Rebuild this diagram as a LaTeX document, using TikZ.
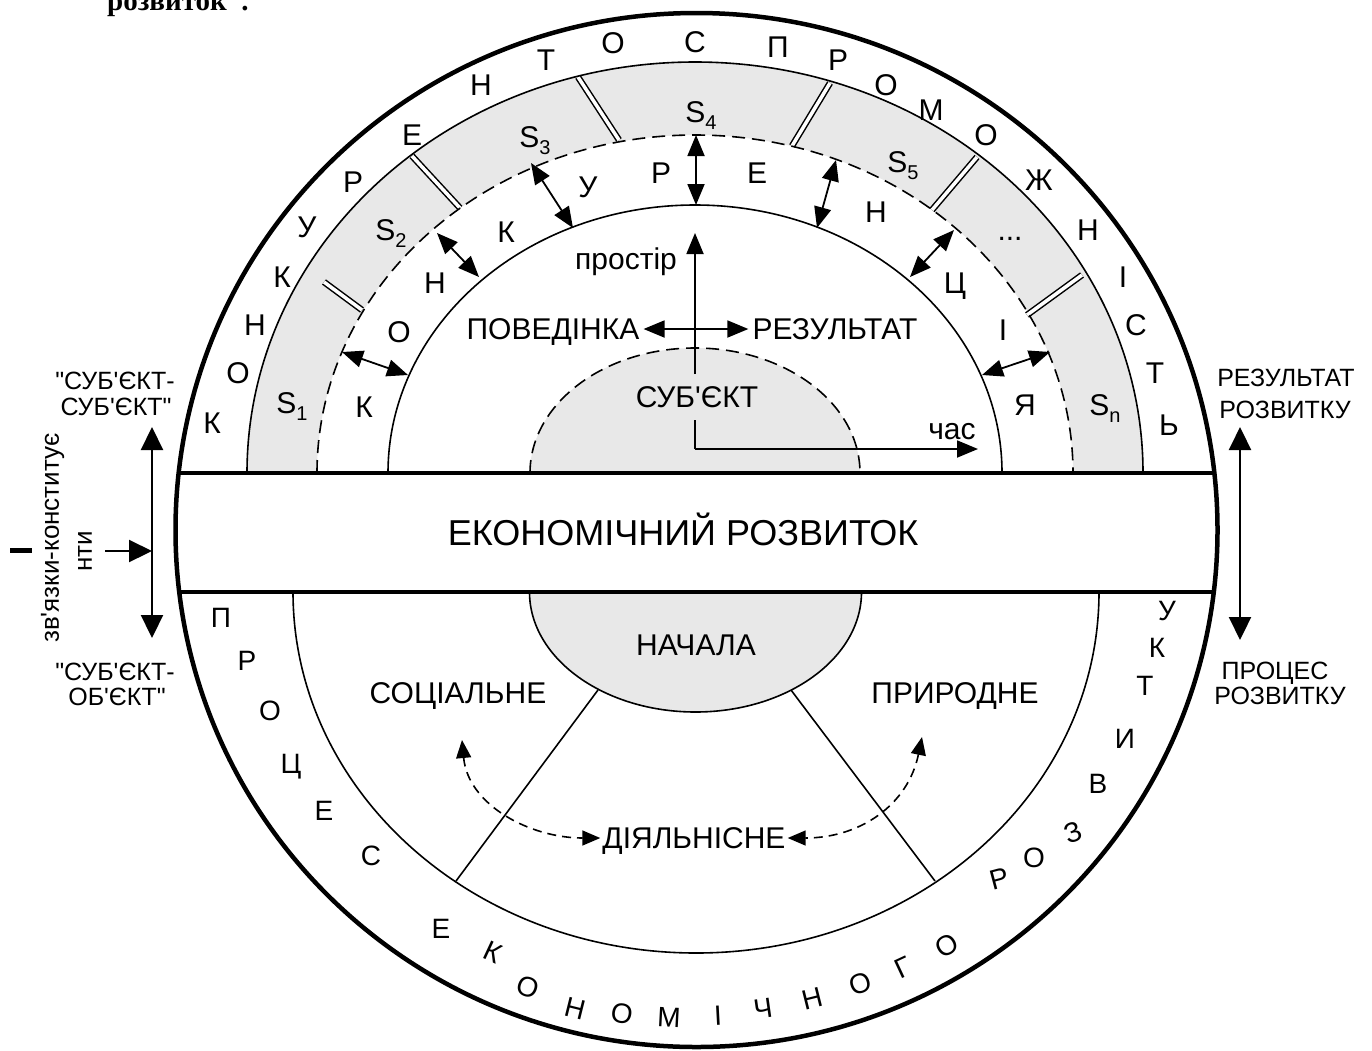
\documentclass[tikz,border=0pt]{standalone}
\usepackage{fontspec}
\setmainfont{Liberation Sans}[Ligatures=TeXOff]
\newfontfamily\serifbf{Liberation Serif}[Ligatures=TeXOff]
\usetikzlibrary{arrows.meta}
\newcommand\fsz[1]{\fontsize{#1}{#1}\selectfont}
\newcommand\Ssub[1]{S\raisebox{-0.22em}{\fsz{20}#1}}
\tikzset{
  TriM/.tip={Triangle[length=21pt,width=17pt]},
  TriB/.tip={Triangle[length=23pt,width=22pt]},
  TriS/.tip={Triangle[length=18pt,width=15pt]},
}
\begin{document}
\begin{tikzpicture}[x=1pt,y=-1pt,
  outer/.style={line width=4.5pt},
  bandline/.style={line width=3.5pt},
  thinarc/.style={line width=1.6pt},
  dasharc/.style={line width=1.6pt, dash pattern=on 13pt off 7pt},
  shade/.style={fill=black!9},
  sepline/.style={line width=1.5pt, double=white, double distance=3.5pt},
  darr/.style={line width=1.8pt, {TriM}-{TriM}},
  bigarr/.style={line width=2.2pt, {TriB}-{TriB}},
  dcurve/.style={line width=1.6pt, dash pattern=on 9pt off 6pt, {TriS}-{TriS}},
  L36/.style={font=\fsz{36}, inner sep=0pt, text height=26pt, text depth=0pt},
  L30/.style={font=\fsz{30}, inner sep=0pt, text height=21.5pt, text depth=0pt},
  L28/.style={font=\fsz{28}, inner sep=0pt, text height=20pt, text depth=0pt},
  L25/.style={font=\fsz{25}, inner sep=0pt, text height=18pt, text depth=0pt},
  low30/.style={font=\fsz{30}, inner sep=0pt, text height=15.6pt, text depth=0pt},
  low26/.style={font=\fsz{26}, inner sep=0pt, text height=13.5pt, text depth=0pt},
]
\useasboundingbox (0,0) rectangle (1372,1050);

% fragment of the caption above (cut off by the page edge)
\node[font=\serifbf\bfseries\fsz{29}, anchor=base west, inner sep=0pt] (capfrag) at (107,10) {розвиток”.};

% shaded regions
\fill[shade] (247,473) arc[start angle=180,end angle=0,x radius=448pt,y radius=411pt]
   -- (1073,473) arc[start angle=0,end angle=180,x radius=378pt,y radius=338pt] -- cycle;
\fill[shade] (530,473) arc[start angle=180,end angle=0,x radius=165pt,y radius=125pt] -- cycle;
\fill[shade] (529.5,592) arc[start angle=180,end angle=360,x radius=166pt,y radius=120pt] -- cycle;

% separators in the shaded ring
\coordinate (s1a) at (324,282); \coordinate (s1b) at (362,310);
\coordinate (s2a) at (412,156); \coordinate (s2b) at (460,208);
\coordinate (s3a) at (578,77);  \coordinate (s3b) at (619,140);
\coordinate (s4a) at (830,83);  \coordinate (s4b) at (792,146);
\coordinate (s5a) at (977,157); \coordinate (s5b) at (932,210);
\coordinate (s6a) at (1082,275); \coordinate (s6b) at (1027,315);
\foreach \k in {1,...,6} \draw[sepline] (s\k a) -- (s\k b);

% upper arcs
\draw[thinarc] (388,473) arc[start angle=180,end angle=0,x radius=307pt,y radius=268pt];
\draw[dasharc] (317,473) arc[start angle=180,end angle=0,x radius=378pt,y radius=338pt];
\draw[thinarc] (247,473) arc[start angle=180,end angle=0,x radius=448pt,y radius=411pt];
\draw[dasharc] (530,473) arc[start angle=180,end angle=0,x radius=165pt,y radius=125pt];

% lower part
\draw[thinarc] (293,592) arc[start angle=180,end angle=360,x radius=403pt,y radius=361pt];
\draw[thinarc] (529.5,592) arc[start angle=180,end angle=360,x radius=166pt,y radius=120pt];
\coordinate (rl1) at (598,690); \coordinate (rl2) at (456,881);
\coordinate (rr1) at (791,690); \coordinate (rr2) at (935,881);
\draw[thinarc] (rl1) -- (rl2);
\draw[thinarc] (rr1) -- (rr2);

% outer circle and band
\draw[outer] (696.5,530) ellipse[x radius=521pt, y radius=517pt];
\draw[bandline] (178.7,473) -- (1214.3,473);
\draw[bandline] (179.3,592) -- (1213.7,592);
\node[L36] (band) at (683,532) {ЕКОНОМІЧНИЙ РОЗВИТОК};

% arrows in the middle ring
\coordinate (a1s) at (342,352); \coordinate (a1e) at (408,375);
\coordinate (a2s) at (437,233); \coordinate (a2e) at (479,277);
\coordinate (a3s) at (531,163); \coordinate (a3e) at (573,228);
\coordinate (a4s) at (696,135); \coordinate (a4e) at (696,205);
\coordinate (a5s) at (836,160); \coordinate (a5e) at (817,228);
\coordinate (a6s) at (954,230); \coordinate (a6e) at (910,277);
\coordinate (a7s) at (1050,352); \coordinate (a7e) at (982,375);
\foreach \k in {1,...,7} \draw[darr] (a\k s) -- (a\k e);

% ring letters
\foreach \t/\x/\y [count=\i] in {К/212/423, О/238/373, Н/255/325, К/282/277, У/307/227, Р/353/182, Е/412/135, Н/481/85, Т/546/60, О/613/43, С/695/42, П/778/47, Р/838/60, О/886/85, М/931/110, О/986/135, Ж/1039/180, Н/1088/230, І/1123/277, С/1136/325, Т/1155/373, Ь/1169/425}
  \node[L30] (u\i) at (\x,\y) {\t};
\foreach \t/\x/\y [count=\i] in {К/364/407, О/399/332, Н/435/283, К/506/232, У/588/187, Р/661/173, Е/757/173, Н/876/212, Ц/955/283, І/1003/330, Я/1025/405}
  \node[L30] (m\i) at (\x,\y) {\t};
\foreach \t/\x/\y/\r [count=\i] in {П/221/617/0, Р/247/660/0, О/270/710/0, Ц/291/763/0, Е/324/810/0, С/371/855/0, Е/441/928/0, К/493/952/-25, О/528/987/-20, Н/575/1008/-14, О/622/1013/-9, М/669/1017/-3, І/718/1015/3, Ч/763/1008/8, Н/812/998/14, О/860/983/20, Г/903/967/25, О/947/945/31, Р/999/878/15, О/1034/857/0, З/1073/832/20, В/1098/783/0, И/1125/738/0, Т/1145/685/0, К/1157/647/0, У/1167/610/0}
  \node[L28, rotate=\r] (d\i) at (\x,\y) {\t};

% S labels
\node[L30] (S1) at (292,403) {\Ssub{1}};
\node[L30] (S2) at (391,230) {\Ssub{2}};
\node[L30] (S3) at (535,137) {\Ssub{3}};
\node[L30] (S4) at (701,112) {\Ssub{4}};
\node[L30] (S5) at (903,162) {\Ssub{5}};
\node[font=\fsz{30}, inner sep=0pt, anchor=base] (Sdots) at (1010,240) {...};
\node[L30] (Sn) at (1105,405) {\Ssub{n}};

% centre: subject, axes
\node[L30, inner ysep=12pt] (subj) at (697,397) {СУБ'ЄКТ};
\coordinate (O) at (695,449);
\coordinate (ptop) at (695,233);
\coordinate (tend) at (978,449);
\draw[line width=1.8pt] (O) -- (O |- subj.south);
\draw[line width=1.8pt, -{TriM}] (O |- subj.north) -- (ptop);
\draw[line width=1.8pt, -{TriM}] (O) -- (tend);
\node[low30] (prost) at (626,262) {простір};
\node[low30] (chas) at (952,432) {час};
\node[L30, inner xsep=4pt] (beh) at (553,329) {ПОВЕДІНКА};
\node[L30, inner xsep=4pt] (res) at (835,329) {РЕЗУЛЬТАТ};
\draw[darr] (beh.east) -- (res.west);

% lower labels
\node[L30] (nach) at (696,645) {НАЧАЛА};
\node[L30] (soc) at (458,693) {СОЦІАЛЬНЕ};
\node[L30] (prir) at (955,693) {ПРИРОДНЕ};
\node[L30, inner xsep=2pt] (dial) at (694,838) {ДІЯЛЬНІСНЕ};
\coordinate (cl) at (462,740);
\coordinate (cr) at (922,737);
\draw[dcurve] (cl) .. controls (468,805) and (530,838) .. (dial.west);
\draw[dcurve] (cr) .. controls (908,805) and (860,838) .. (dial.east);

% left side
\node[L25] (lt1) at (115,380) {"СУБ'ЄКТ-};
\node[L25] (lt2) at (116,406) {СУБ'ЄКТ"};
\node[L25] (lb1) at (115,671) {"СУБ'ЄКТ-};
\node[L25] (lb2) at (117,696) {ОБ'ЄКТ"};
\coordinate (lv1) at (152,427); \coordinate (lv2) at (152,638);
\coordinate (lh) at (105,551); \coordinate (lm) at (152,551);
\draw[bigarr] (lv1) -- (lv2);
\draw[line width=2.2pt, -{TriB}] (lh) -- (lm);
\node[low26, rotate=90] (zv1) at (52,538) {зв'язки-конститує};
\node[low26, rotate=90] (zv2) at (85,551) {нти};
\fill (10,548) rectangle (32,553);

% right side
\node[L25] (rt1) at (1286,377) {РЕЗУЛЬТАТ};
\node[L25] (rt2) at (1285,409) {РОЗВИТКУ};
\node[L25] (rb1) at (1275,670) {ПРОЦЕС};
\node[L25] (rb2) at (1280,695) {РОЗВИТКУ};
\coordinate (rv1) at (1240,427); \coordinate (rv2) at (1240,640);
\draw[bigarr] (rv1) -- (rv2);
\end{tikzpicture}
\end{document}
